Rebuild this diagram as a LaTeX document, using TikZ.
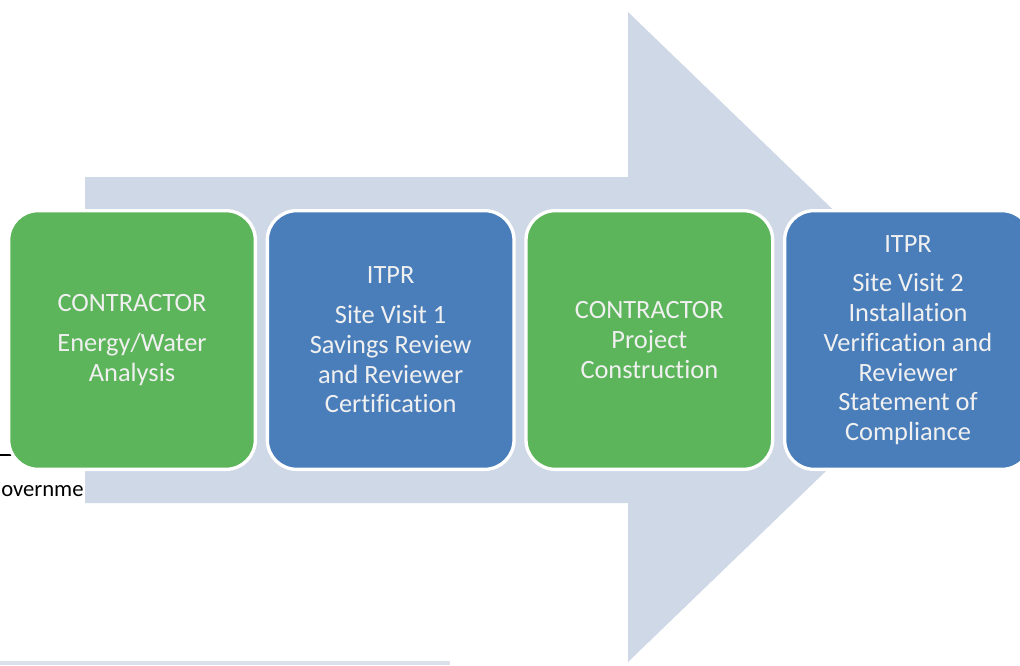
\documentclass[tikz,border=0pt]{standalone}
\usepackage{fontspec}
\setmainfont{Carlito}[Ligatures=NoCommon]
\usetikzlibrary{positioning}
\tikzset{>=latex}
\definecolor{arrowgray}{RGB}{207,216,230}
\definecolor{stepgreen}{RGB}{92,181,90}
\definecolor{stepblue}{RGB}{74,126,187}
\definecolor{striptone}{RGB}{220,225,233}

\begin{document}
\begin{tikzpicture}[x=0.75pt, y=-0.75pt, node distance=9pt,
		phase/.style={rounded corners=22pt, draw=white, line width=2.5pt, outer sep=0pt, inner sep=0pt,
			minimum width=185pt, minimum height=194pt, align=center, text=white!94!black,
			font=\fontsize{19.8}{22.3}\selectfont},
		contractor/.style={phase, fill=stepgreen},
		reviewer/.style={phase, fill=stepblue}]
	\useasboundingbox (0,0) rectangle (1020,665);
	\begin{scope}
		\clip (0,0) rectangle (1020,665);
		% bits of the page underneath
		\draw[black, line width=0.8pt] (0,455) -- (13,455);
		\node[anchor=base west, inner sep=0pt, font=\fontsize{17}{20}\selectfont] (pagetext) at (1,496) {overnme};
		\fill[striptone] (0,661) rectangle (450,665);
		% the big arrow behind the steps
		\fill[arrowgray] (85,177) -- (628,177) -- (628,12) -- (965,337) -- (628,662) -- (628,503) -- (85,503) -- cycle;
		% the four steps
		\node[contractor] (analysis) at (132,340) {CONTRACTOR\\[7.5pt]Energy/Water\\Analysis};
		\node[reviewer, right=of analysis] (visitone) {ITPR\\[7.5pt]Site Visit 1\\Savings Review\\and Reviewer\\Certification};
		\node[contractor, right=of visitone] (construction) {CONTRACTOR\\Project\\Construction};
		\node[reviewer, right=of construction] (visittwo) {ITPR\\[7.5pt]Site Visit 2\\Installation\\Verification and\\Reviewer\\Statement of\\Compliance};
	\end{scope}
\end{tikzpicture}
\end{document}
